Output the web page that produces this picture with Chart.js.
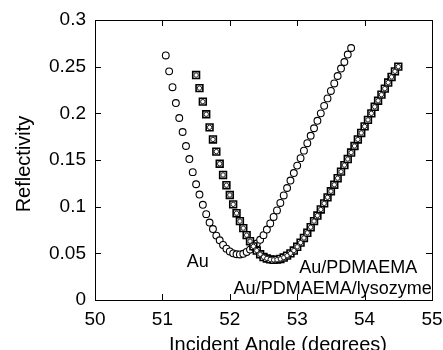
<!DOCTYPE html>
<html>
<head>
<meta charset="utf-8">
<script src="https://cdn.jsdelivr.net/npm/chart.js@4/dist/chart.umd.min.js"></script>
<style>
  html, body { margin: 0; padding: 0; background: #ffffff; }
  #c { display: block; }
</style>
</head>
<body>
<canvas id="c" width="443" height="350"></canvas>
<script>
// Incident angle (degrees) and reflectivity for each film
const angleAu = [
  51.05, 51.10, 51.15, 51.20, 51.25, 51.30, 51.35, 51.40, 51.45, 51.50,
  51.55, 51.60, 51.65, 51.70, 51.75, 51.80, 51.85, 51.90, 51.95, 52.00,
  52.05, 52.10, 52.15, 52.20, 52.25, 52.30, 52.35, 52.40, 52.45, 52.50,
  52.55, 52.60, 52.65, 52.70, 52.75, 52.80, 52.85, 52.90, 52.95, 53.00,
  53.05, 53.10, 53.15, 53.20, 53.25, 53.30, 53.35, 53.40, 53.45, 53.50,
  53.55, 53.60, 53.65, 53.70, 53.75, 53.80
];
const reflAu = [
  0.262, 0.245, 0.228, 0.211, 0.195, 0.180, 0.165, 0.151, 0.137, 0.124,
  0.113, 0.102, 0.092, 0.083, 0.076, 0.069, 0.064, 0.059, 0.055, 0.052,
  0.050, 0.049, 0.0488, 0.0495, 0.0515, 0.054, 0.057, 0.0605, 0.0645, 0.0695,
  0.0755, 0.082, 0.089, 0.096, 0.104, 0.112, 0.120, 0.128, 0.136, 0.144,
  0.152, 0.160, 0.168, 0.176, 0.184, 0.192, 0.200, 0.208, 0.216, 0.224,
  0.232, 0.240, 0.248, 0.255, 0.263, 0.270
];

const anglePolymer = [
  51.50, 51.55, 51.60, 51.65, 51.70, 51.75, 51.80, 51.85, 51.90, 51.95,
  52.00, 52.05, 52.10, 52.15, 52.20, 52.25, 52.30, 52.35, 52.40, 52.45,
  52.50, 52.55, 52.60, 52.65, 52.70, 52.75, 52.80, 52.85, 52.90, 52.95,
  53.00, 53.05, 53.10, 53.15, 53.20, 53.25, 53.30, 53.35, 53.40, 53.45,
  53.50, 53.55, 53.60, 53.65, 53.70, 53.75, 53.80, 53.85, 53.90, 53.95,
  54.00, 54.05, 54.10, 54.15, 54.20, 54.25, 54.30, 54.35, 54.40, 54.45,
  54.50
];
const reflPDMAEMA = [
  0.241, 0.227, 0.2125, 0.199, 0.185, 0.172, 0.159, 0.146, 0.134, 0.123,
  0.1125, 0.1025, 0.093, 0.0845, 0.077, 0.0695, 0.063, 0.0575, 0.053, 0.049,
  0.046, 0.0445, 0.0435, 0.043, 0.0432, 0.044, 0.0455, 0.0475, 0.050, 0.053,
  0.057, 0.0615, 0.0665, 0.072, 0.078, 0.0845, 0.0905, 0.097, 0.1035, 0.110,
  0.1165, 0.1235, 0.1305, 0.1375, 0.1445, 0.151, 0.158, 0.165, 0.172, 0.179,
  0.186, 0.193, 0.200, 0.207, 0.2135, 0.220, 0.2265, 0.233, 0.239, 0.245,
  0.250
];
const reflLysozyme = [
  0.241, 0.227, 0.2125, 0.199, 0.185, 0.172, 0.159, 0.146, 0.134, 0.123,
  0.1125, 0.1025, 0.093, 0.0845, 0.077, 0.0695, 0.063, 0.0575, 0.053, 0.049,
  0.046, 0.0445, 0.0435, 0.043, 0.0432, 0.044, 0.0455, 0.0475, 0.050, 0.053,
  0.057, 0.0615, 0.0665, 0.072, 0.078, 0.0845, 0.0905, 0.097, 0.1035, 0.110,
  0.1165, 0.1235, 0.1305, 0.1375, 0.1445, 0.151, 0.158, 0.165, 0.172, 0.179,
  0.186, 0.193, 0.200, 0.207, 0.2135, 0.220, 0.2265, 0.233, 0.239, 0.245,
  0.250
];

const xTicks = [50, 51, 52, 53, 54, 55];
const yTicks = [0, 0.05, 0.1, 0.15, 0.2, 0.25, 0.3];

const seriesNames = ['Au', 'Au/PDMAEMA', 'Au/PDMAEMA/lysozyme'];

const FONT = '"Liberation Sans", Arial, Helvetica, sans-serif';

function pairs(xs, ys) {
  return xs.map((x, i) => ({ x: x, y: ys[i] }));
}

// In-plot curve labels, anchored in data units
const curveLabels = [
  { text: seriesNames[0], x: 51.36, y: 0.035, align: 'left' },
  { text: seriesNames[1], x: 53.03, y: 0.029, align: 'left' },
  { text: seriesNames[2], x: 54.995, y: 0.0065, align: 'right' }
];

const framePlugin = {
  id: 'frame',
  afterDraw(chart) {
    const ctx = chart.ctx;
    const { left, right, top, bottom } = chart.chartArea;
    const xs = chart.scales.x, ys = chart.scales.y;
    ctx.save();
    ctx.strokeStyle = '#000';
    ctx.lineWidth = 1;
    // box
    ctx.strokeRect(Math.round(left) + 0.5, Math.round(top) + 0.5,
                   Math.round(right - left), Math.round(bottom - top));
    // inward tick marks on all four sides
    const tl = 6;
    ctx.beginPath();
    xTicks.forEach(v => {
      const px = Math.round(xs.getPixelForValue(v)) + 0.5;
      ctx.moveTo(px, bottom); ctx.lineTo(px, bottom - tl);
      ctx.moveTo(px, top); ctx.lineTo(px, top + tl);
    });
    yTicks.forEach(v => {
      const py = Math.round(ys.getPixelForValue(v)) + 0.5;
      ctx.moveTo(left, py); ctx.lineTo(left + tl, py);
      ctx.moveTo(right, py); ctx.lineTo(right - tl, py);
    });
    ctx.stroke();

    // curve labels
    ctx.fillStyle = '#000';
    ctx.font = '18px ' + FONT;
    ctx.textBaseline = 'alphabetic';
    curveLabels.forEach(l => {
      ctx.textAlign = l.align;
      ctx.fillText(l.text, xs.getPixelForValue(l.x), ys.getPixelForValue(l.y));
    });

    // axis titles
    ctx.font = '20px ' + FONT;
    ctx.textAlign = 'center';
    ctx.textBaseline = 'alphabetic';
    ctx.fillText('Incident Angle (degrees)', 278, 351);
    ctx.save();
    ctx.translate(30, 164);
    ctx.rotate(-Math.PI / 2);
    ctx.fillText('Reflectivity', 0, 0);
    ctx.restore();
    ctx.restore();
  }
};

new Chart(document.getElementById('c'), {
  type: 'scatter',
  data: {
    datasets: [
      {
        label: seriesNames[0],
        data: pairs(angleAu, reflAu),
        pointStyle: 'circle',
        pointRadius: 3.4,
        pointBorderWidth: 1.1,
        pointBorderColor: '#000',
        pointBackgroundColor: '#fff',
        order: 2
      },
      {
        label: seriesNames[1],
        data: pairs(anglePolymer, reflPDMAEMA),
        pointStyle: 'rect',
        pointRadius: 4.8,
        pointBorderWidth: 1.6,
        pointBorderColor: '#000',
        pointBackgroundColor: '#fff',
        order: 1
      },
      {
        label: seriesNames[2],
        data: pairs(anglePolymer, reflLysozyme),
        pointStyle: 'circle',
        pointRadius: 2.2,
        pointBorderWidth: 1,
        pointBorderColor: '#222',
        pointBackgroundColor: '#fff',
        order: 0
      }
    ]
  },
  options: {
    responsive: false,
    animation: false,
    events: [],
    layout: { padding: { left: 0, right: 11, top: 20, bottom: 0 } },
    plugins: {
      legend: { display: false },
      tooltip: { enabled: false }
    },
    scales: {
      x: {
        type: 'linear',
        min: 50, max: 55,
        afterBuildTicks: s => { s.ticks = xTicks.map(v => ({ value: v })); },
        afterFit: s => { s.height = 50; s.paddingLeft = 0; s.paddingRight = 0; },
        grid: { display: false, drawTicks: false },
        border: { display: false },
        ticks: {
          padding: 8,
          color: '#000',
          font: { family: FONT, size: 19 },
          maxRotation: 0,
          callback: v => String(v)
        }
      },
      y: {
        type: 'linear',
        min: 0, max: 0.3,
        afterBuildTicks: s => { s.ticks = yTicks.map(v => ({ value: v })); },
        afterFit: s => { s.width = 95; s.paddingTop = 0; s.paddingBottom = 0; },
        grid: { display: false, drawTicks: false },
        border: { display: false },
        ticks: {
          padding: 9,
          color: '#000',
          font: { family: FONT, size: 19 },
          callback: v => String(Math.round(v * 100) / 100)
        }
      }
    }
  },
  plugins: [framePlugin]
});
</script>
</body>
</html>
